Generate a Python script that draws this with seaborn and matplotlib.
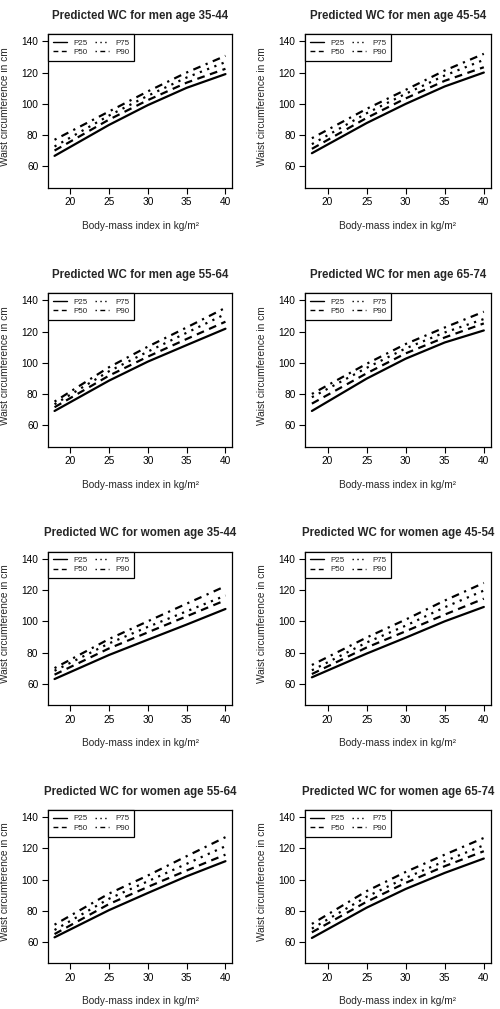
import numpy as np
import pandas as pd
import seaborn as sns
import matplotlib.pyplot as plt

bmi = [18, 25, 30, 35, 40]
percentiles = ['P25', 'P50', 'P75', 'P90']

# predicted waist circumference (cm), one list per percentile
men_35_44 = {'P25': [66.7, 86.5, 99.2, 110.3, 119.1],
             'P50': [70.1, 89.9, 102.4, 113.6, 122.5],
             'P75': [72.7, 92.5, 105.2, 116.9, 126.8],
             'P90': [77.0, 95.1, 108.0, 120.1, 130.8]}
men_45_54 = {'P25': [68.4, 87.7, 100.0, 111.2, 120.1],
             'P50': [71.2, 91.0, 103.5, 114.8, 123.5],
             'P75': [74.2, 94.0, 106.5, 118.2, 128.2],
             'P90': [78.0, 96.8, 109.0, 121.4, 132.1]}
men_55_64 = {'P25': [69.2, 88.6, 100.8, 111.4, 121.9],
             'P50': [71.6, 91.8, 104.0, 115.3, 126.4],
             'P75': [73.5, 94.6, 107.2, 119.3, 131.3],
             'P90': [75.2, 97.2, 110.4, 122.7, 135.3]}
men_65_74 = {'P25': [69.2, 89.9, 102.7, 113.1, 120.8],
             'P50': [73.9, 93.3, 106.1, 116.3, 125.3],
             'P75': [78.0, 96.8, 109.3, 119.5, 128.1],
             'P90': [80.1, 99.4, 112.1, 122.7, 132.8]}
women_35_44 = {'P25': [63.0, 78.4, 88.2, 97.9, 107.9],
               'P50': [65.8, 82.6, 92.9, 103.2, 113.5],
               'P75': [68.3, 85.8, 96.4, 106.4, 116.5],
               'P90': [70.0, 88.6, 100.0, 111.3, 122.5]}
women_45_54 = {'P25': [64.1, 79.3, 89.5, 100.0, 109.2],
               'P50': [66.2, 83.2, 93.6, 104.3, 114.5],
               'P75': [68.6, 86.4, 97.2, 109.0, 119.7],
               'P90': [72.0, 89.6, 101.1, 113.3, 124.6]}
women_55_64 = {'P25': [63.0, 80.4, 91.4, 102.1, 111.8],
               'P50': [65.1, 84.3, 95.3, 105.8, 116.0],
               'P75': [67.7, 87.7, 98.9, 110.1, 121.4],
               'P90': [71.1, 91.0, 102.6, 115.0, 127.2]}
women_65_74 = {'P25': [62.6, 82.0, 94.0, 104.3, 113.5],
               'P50': [66.2, 85.8, 97.9, 108.6, 118.2],
               'P75': [68.6, 89.0, 101.1, 111.8, 122.0],
               'P90': [71.6, 92.6, 104.9, 116.0, 126.7]}

panels = [('Predicted WC for men age 35-44', men_35_44),
          ('Predicted WC for men age 45-54', men_45_54),
          ('Predicted WC for men age 55-64', men_55_64),
          ('Predicted WC for men age 65-74', men_65_74),
          ('Predicted WC for women age 35-44', women_35_44),
          ('Predicted WC for women age 45-54', women_45_54),
          ('Predicted WC for women age 55-64', women_55_64),
          ('Predicted WC for women age 65-74', women_65_74)]

line_styles = {'P25': '-',
               'P50': (0, (3.5, 2.5)),
               'P75': (0, (1, 2.5)),
               'P90': (0, (1, 2.5, 3.5, 2.5))}

sns.set_style('ticks')
plt.rcParams['font.family'] = ['Liberation Sans', 'DejaVu Sans']

W, H = 500, 1009
fig = plt.figure(figsize=(W / 100, H / 100), dpi=100)

col_x = [47.7, 305.0]
col_w = [184.6, 185.7]
row_top = [34.3, 293.3, 551.7, 810.0]
ax_h = 153.4

for i, (title, data) in enumerate(panels):
    r, c = divmod(i, 2)
    ax = fig.add_axes([col_x[c] / W, 1 - (row_top[r] + ax_h) / H,
                       col_w[c] / W, ax_h / H])
    for p in percentiles:
        df = pd.DataFrame({'bmi': bmi, 'wc': data[p]})
        sns.lineplot(data=df, x='bmi', y='wc', ax=ax, color='black',
                     lw=1.6, linestyle=line_styles[p], label=p)
    ax.set_xlim(17.12, 40.88)
    ax.set_ylim(46.3, 144.6)
    ax.set_xticks([20, 25, 30, 35, 40])
    ax.set_yticks([60, 80, 100, 120, 140])
    for s in ax.spines.values():
        s.set_color('black')
        s.set_linewidth(0.9)
    ax.tick_params(direction='out', length=4.3, width=0.8, labelsize=7.3,
                   colors='black', pad=2.5)
    ax.set_title(title, fontsize=8.3, fontweight='bold', pad=11)
    ax.set_xlabel('Body-mass index in kg/m²', fontsize=7.3)
    ax.set_ylabel('Waist circumference in cm', fontsize=7.3)
    ax.xaxis.set_label_coords(0.5, -0.215)
    ax.yaxis.set_label_coords(-0.205, 0.53)
    leg = ax.legend(ncol=2, loc='upper left', borderaxespad=0, fontsize=5.8,
                    fancybox=False, edgecolor='black', framealpha=1,
                    handlelength=1.8, handletextpad=0.75, columnspacing=0.9,
                    labelspacing=0.2, borderpad=0.6)
    leg.get_frame().set_linewidth(0.9)
    # thinner handles so the dash patterns show inside the short legend lines
    for h in leg.get_lines():
        h.set_linewidth(1.0)

fig.savefig('out.png', dpi=100)
